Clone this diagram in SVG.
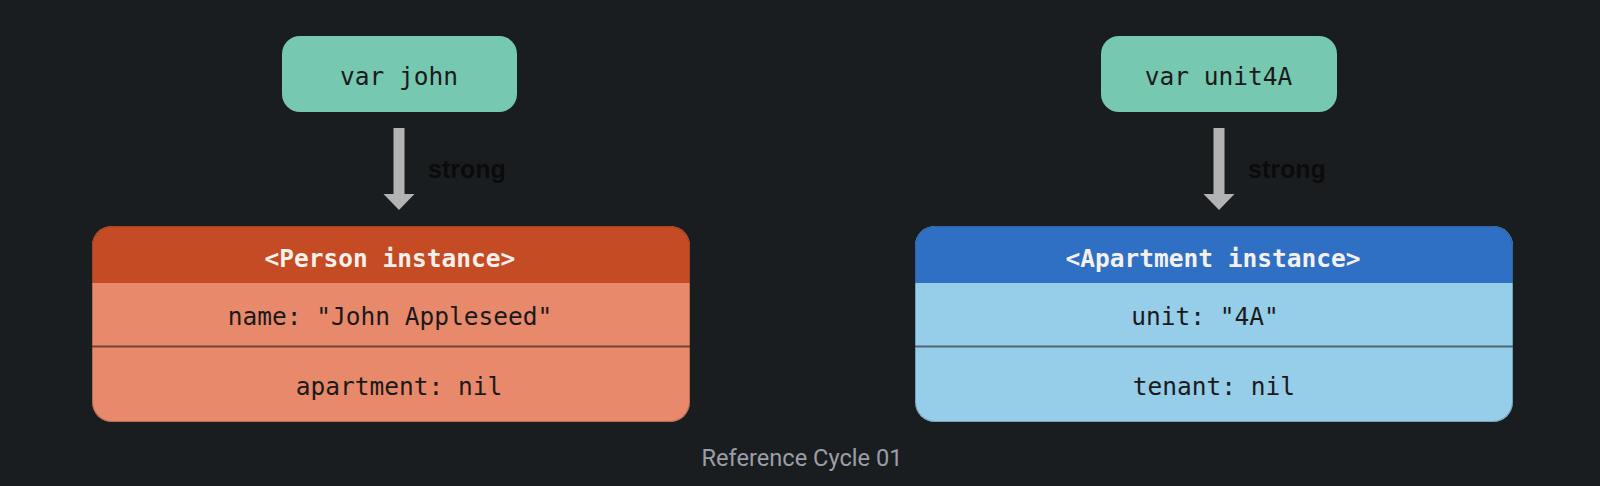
<svg xmlns="http://www.w3.org/2000/svg" width="1600" height="486" viewBox="0 0 1600 486">
  <style>
    .mono { font-family: "DejaVu Sans Mono", "Liberation Mono", monospace; font-size: 24.5px; text-anchor: middle; }
    .var { fill: #76C8B1; }
    .vtxt { fill: #1a1a1a; }
    .hdr { font-weight: bold; fill: #F4F0EC; }
    .body { fill: #1a1a1a; }
    .lbl { font-family: "Liberation Sans", Arial, sans-serif; font-weight: bold; font-size: 25px; fill: #0b0b0b; }
    .arrow { fill: #B3B3B3; }
    .cap { font-family: Roboto, "Liberation Sans", sans-serif; font-size: 23.6px; fill: #9B9EA8; text-anchor: middle; }
  </style>
  <defs>
    <clipPath id="clipP"><rect x="92" y="226" width="598" height="196" rx="20"/></clipPath>
    <clipPath id="clipA"><rect x="915" y="226" width="598" height="196" rx="20"/></clipPath>
  </defs>
  <rect width="1600" height="486" fill="#1A1D20"/>

  <g id="connectors">
    <path class="arrow" d="M393.5,128 H404.5 V194 H414.5 L399,210 L383.5,194 H393.5 Z"/>
    <text class="lbl" x="428" y="178">strong</text>
    <path class="arrow" d="M1213.5,128 H1224.5 V194 H1234.5 L1219,210 L1203.5,194 H1213.5 Z"/>
    <text class="lbl" x="1248" y="178">strong</text>
  </g>

  <g id="var-john">
    <rect class="var" x="282" y="36" width="235" height="76" rx="18"/>
    <text class="mono vtxt" x="399" y="85">var john</text>
  </g>

  <g id="var-unit4A">
    <rect class="var" x="1101" y="36" width="236" height="76" rx="18"/>
    <text class="mono vtxt" x="1218.5" y="85">var unit4A</text>
  </g>

  <g id="person">
    <g clip-path="url(#clipP)">
      <rect x="92" y="226" width="598" height="196" fill="#E8896B"/>
      <rect x="92" y="226" width="598" height="57" fill="#C44B24"/>
      <rect x="92" y="345.5" width="598" height="2" fill="#6E4639"/>
    </g>
    <rect x="92.5" y="226.5" width="597" height="195" rx="20" fill="none" stroke="#5a3a30" stroke-opacity="0.35" stroke-width="1"/>
    <text class="mono hdr" x="390" y="267">&lt;Person instance&gt;</text>
    <text class="mono body" x="390" y="325">name: "John Appleseed"</text>
    <text class="mono body" x="399" y="395">apartment: nil</text>
  </g>

  <g id="apartment">
    <g clip-path="url(#clipA)">
      <rect x="915" y="226" width="598" height="196" fill="#96CDE8"/>
      <rect x="915" y="226" width="598" height="57" fill="#2F6FC4"/>
      <rect x="915" y="345.5" width="598" height="2" fill="#4C6776"/>
    </g>
    <rect x="915.5" y="226.5" width="597" height="195" rx="20" fill="none" stroke="#35505e" stroke-opacity="0.35" stroke-width="1"/>
    <text class="mono hdr" x="1213" y="267">&lt;Apartment instance&gt;</text>
    <text class="mono body" x="1205" y="325">unit: "4A"</text>
    <text class="mono body" x="1214" y="395">tenant: nil</text>
  </g>

  <text class="cap" x="802" y="466">Reference Cycle 01</text>
</svg>
